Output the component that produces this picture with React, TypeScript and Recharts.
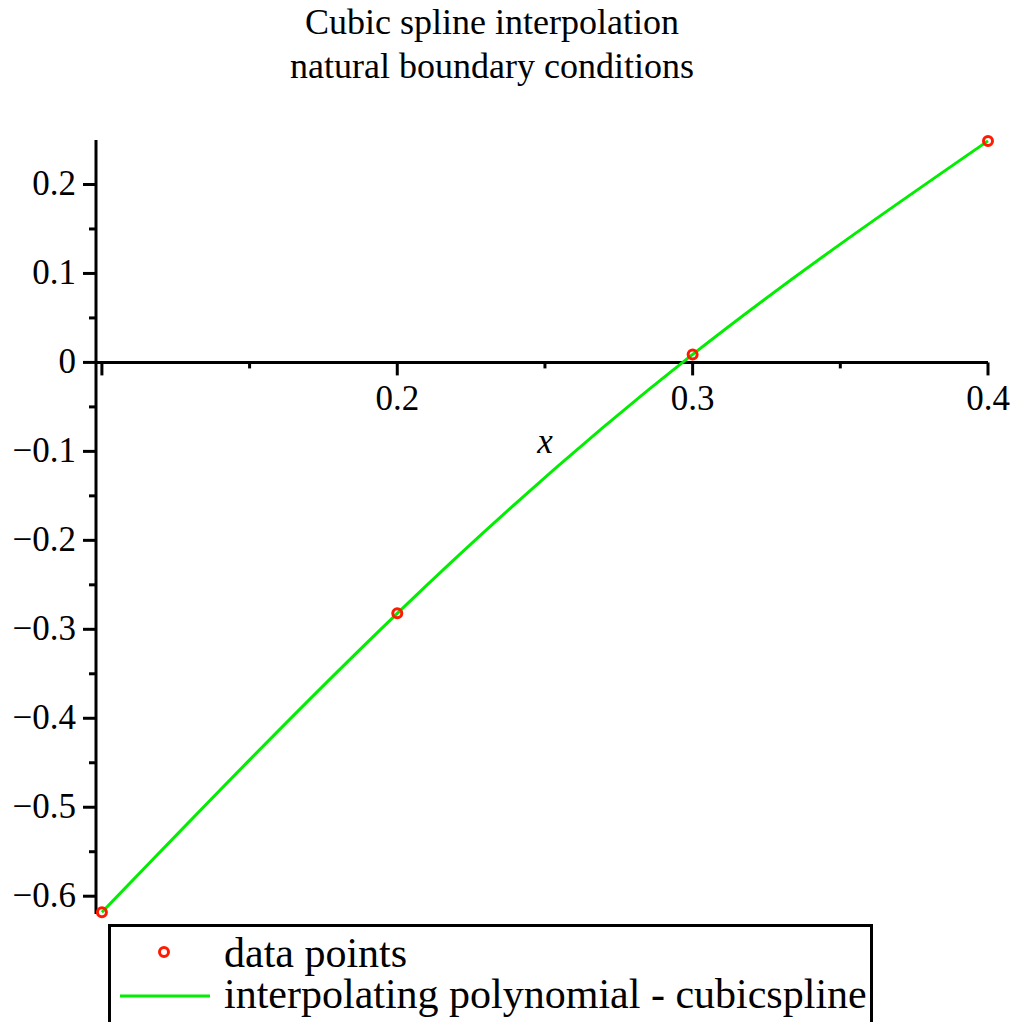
import { ComposedChart, Line, ReferenceDot, ReferenceLine, XAxis, YAxis } from "recharts"

const xValues = [0.1, 0.2, 0.3, 0.4]
const yValues = [-0.618, -0.282, 0.009, 0.249]

const xTicks = [0.1, 0.15, 0.2, 0.25, 0.3, 0.35, 0.4]
const xTickLabels = ["", "", "0.2", "", "0.3", "", "0.4"]
const xMajor = [true, false, true, false, true, false, true]

const yTicks = [0.2, 0.15, 0.1, 0.05, 0, -0.05, -0.1, -0.15, -0.2, -0.25, -0.3, -0.35, -0.4, -0.45, -0.5, -0.55, -0.6]
const yTickLabels = ["0.2", "", "0.1", "", "0", "", "−0.1", "", "−0.2", "", "−0.3", "", "−0.4", "", "−0.5", "", "−0.6"]

const X_MIN = 0.098
const X_MAX = 0.4
const Y_MIN = -0.62
const Y_MAX = 0.25

const W = 1011
const H = 1022
const X_AXIS_H = 20
const MARGIN = { top: 140, right: 23, bottom: 108 - X_AXIS_H, left: 0 }
const PLOT_H = H - MARGIN.top - MARGIN.bottom - X_AXIS_H

const FONT = "'Liberation Serif', 'Times New Roman', serif"
const RED = "#ff1a00"
const GREEN = "#00ee00"

const data = xValues.map((x, i) => ({ x, y: yValues[i] }))

function XTick(props: any) {
  const { x, y, payload } = props
  const i = xTicks.indexOf(payload.value)
  // the x axis is drawn through y = 0, not along the bottom of the plot
  const y0 = y - (PLOT_H * (0 - Y_MIN)) / (Y_MAX - Y_MIN)
  const len = xMajor[i] ? 13 : 6
  return (
    <g>
      <line x1={x} x2={x} y1={y0} y2={y0 + len} stroke="#000" strokeWidth={3} />
      {xTickLabels[i] && (
        <text x={x} y={y0 + 48} textAnchor="middle" style={{ fontFamily: FONT, fontSize: 35 }} fill="#000">
          {xTickLabels[i]}
        </text>
      )}
    </g>
  )
}

function YTick(props: any) {
  const { x, y, payload } = props
  const i = yTicks.indexOf(payload.value)
  const label = yTickLabels[i]
  const len = label ? 13 : 7
  return (
    <g>
      <line x1={x - len} x2={x} y1={y} y2={y} stroke="#000" strokeWidth={3} />
      {label && (
        <text x={x - 20} y={y + 11} textAnchor="end" style={{ fontFamily: FONT, fontSize: 35 }} fill="#000">
          {label}
        </text>
      )}
    </g>
  )
}

function PointDot(props: any) {
  const { cx, cy } = props
  if (cx == null || cy == null) return null
  return <circle cx={cx} cy={cy} r={4.5} fill="none" stroke={RED} strokeWidth={3} />
}

function AxisName(props: any) {
  const { cx, cy } = props
  return (
    <text
      x={cx}
      y={cy + 91}
      textAnchor="middle"
      style={{ fontFamily: FONT, fontSize: 35, fontStyle: "italic" }}
      fill="#000"
    >
      x
    </text>
  )
}

export default function App() {
  return (
    <div style={{ position: "absolute", left: 0, top: 0, width: W, height: H, background: "#fff", overflow: "hidden" }}>
      <div
        style={{
          position: "absolute",
          left: 0,
          top: 0,
          width: 984,
          textAlign: "center",
          fontFamily: FONT,
          fontSize: 36,
          lineHeight: "44px",
          color: "#000",
        }}
      >
        <div>Cubic spline interpolation</div>
        <div>natural boundary conditions</div>
      </div>

      <ComposedChart width={W} height={H} data={data} margin={MARGIN} style={{ position: "absolute", left: 0, top: 0 }}>
        <XAxis
          type="number"
          dataKey="x"
          domain={[X_MIN, X_MAX]}
          ticks={xTicks}
          interval={0}
          height={X_AXIS_H}
          axisLine={false}
          tickLine={false}
          tickSize={0}
          tickMargin={0}
          tick={<XTick />}
        />
        <YAxis
          type="number"
          domain={[Y_MIN, Y_MAX]}
          ticks={yTicks}
          interval={0}
          width={96}
          axisLine={{ stroke: "#000", strokeWidth: 3 }}
          tickLine={false}
          tickSize={0}
          tickMargin={0}
          tick={<YTick />}
        />
        <ReferenceLine y={0} stroke="#000" strokeWidth={3} />
        <ReferenceDot x={0.25} y={0} r={0} shape={<AxisName />} />
        <Line
          dataKey="y"
          stroke="none"
          dot={<PointDot />}
          activeDot={false}
          legendType="none"
          isAnimationActive={false}
        />
        <Line
          type="natural"
          dataKey="y"
          stroke={GREEN}
          strokeWidth={3}
          dot={false}
          activeDot={false}
          isAnimationActive={false}
        />
      </ComposedChart>

      <div
        style={{
          position: "absolute",
          left: 108,
          top: 924,
          width: 759,
          height: 130,
          border: "3px solid #000",
          background: "#fff",
          fontFamily: FONT,
          fontSize: 42,
          lineHeight: "38px",
          color: "#000",
        }}
      >
        <svg width={110} height={100} style={{ position: "absolute", left: 0, top: 0 }}>
          <circle cx={53} cy={25} r={4.5} fill="none" stroke={RED} strokeWidth={3} />
          <line x1={9} x2={99} y1={69} y2={69} stroke={GREEN} strokeWidth={3} />
        </svg>
        <div style={{ position: "absolute", left: 113, top: 7, whiteSpace: "nowrap" }}>data points</div>
        <div style={{ position: "absolute", left: 113, top: 48, whiteSpace: "nowrap" }}>
          interpolating polynomial - cubicspline
        </div>
      </div>
    </div>
  )
}
